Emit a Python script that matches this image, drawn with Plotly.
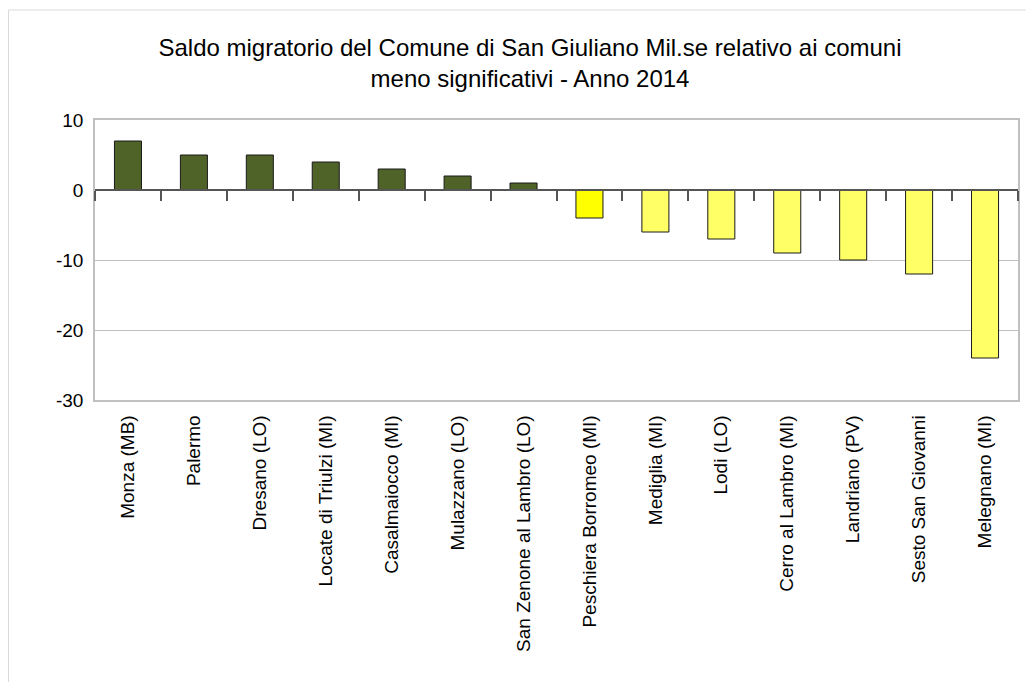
import plotly.graph_objects as go

categories = ["Monza (MB)", "Palermo", "Dresano (LO)", "Locate di Triulzi (MI)",
              "Casalmaiocco (MI)", "Mulazzano (LO)", "San Zenone al Lambro (LO)",
              "Peschiera Borromeo (MI)", "Mediglia (MI)", "Lodi (LO)",
              "Cerro al Lambro (MI)", "Landriano (PV)", "Sesto San Giovanni",
              "Melegnano (MI)"]
values = [7, 5, 5, 4, 3, 2, 1, -4, -6, -7, -9, -10, -12, -24]
bar_colors = ["#4F6228"] * 7 + ["#FFFF00"] + ["#FFFF66"] * 6
y_ticks = [10, 0, -10, -20, -30]
y_ticktext = ["10", "0", "-10", "-20", "-30"]

FONT = "Liberation Sans"

# page has an 8px body margin; figure sized/positioned to compensate
W, H = 1026, 680
L, R, T, B = 87, 16, 112, 288
pw, ph = W - L - R, H - T - B

fig = go.Figure()
fig.add_trace(go.Bar(
    x=list(range(len(categories))), y=values,
    marker=dict(color=bar_colors, line=dict(color="#1a1a1a", width=1)),
    width=0.41, showlegend=False, hoverinfo="x+y",
))
# transparent trace on overlay axis so the zero-line axis with category ticks is drawn
fig.add_trace(go.Scatter(x=[-0.5, len(categories) - 0.5], y=[0, 0], xaxis="x2",
                         mode="lines", line=dict(width=0), showlegend=False,
                         hoverinfo="skip"))

fig.update_layout(
    width=W, height=H,
    paper_bgcolor="white", plot_bgcolor="white",
    margin=dict(l=L, r=R, t=T, b=B, pad=0),
    title=dict(text="Saldo migratorio del Comune di San Giuliano Mil.se relativo ai comuni<br>meno significativi - Anno 2014",
               x=(530 - 8) / W, xanchor="center", y=1 - (56 - 8) / H, yanchor="middle",
               font=dict(family=FONT, size=24, color="#000000")),
    font=dict(family=FONT, color="#000000"),
    xaxis=dict(
        tickmode="array", tickvals=list(range(len(categories))), ticktext=categories,
        tickangle=-90, range=[-0.5, len(categories) - 0.5],
        showline=True, linecolor="#c0c0c0", linewidth=1.5, mirror=True,
        showgrid=False, ticks="", ticklabelstandoff=6,
        tickfont=dict(family=FONT, size=19, color="#000000"),
        zeroline=False,
    ),
    xaxis2=dict(
        overlaying="x", anchor="free", position=0.75, side="bottom",
        range=[-0.5, len(categories) - 0.5],
        tickmode="array", tickvals=[i - 0.5 for i in range(len(categories) + 1)],
        ticks="outside", ticklen=10, tickwidth=1.5, tickcolor="#555555",
        showticklabels=False, showline=True, linecolor="#555555", linewidth=1.5,
        showgrid=False, zeroline=False,
    ),
    yaxis=dict(
        range=[-30, 10], tickmode="array", tickvals=y_ticks, ticktext=y_ticktext,
        showgrid=True, gridcolor="#c0c0c0", gridwidth=1,
        showline=True, linecolor="#c0c0c0", linewidth=1.5, mirror=True,
        zeroline=False, ticks="", ticklabelstandoff=6,
        tickfont=dict(family=FONT, size=19, color="#000000"),
    ),
)

fig.add_shape(type="rect", xref="paper", yref="paper",
              x0=(0.5 - L) / pw, x1=(W + 20 - L) / pw,
              y0=(ph - (H + 20 - T)) / ph, y1=(ph - (2 - T)) / ph,
              line=dict(color="#d9d9d9", width=1), fillcolor="rgba(0,0,0,0)", layer="below")

fig.write_html("out.html")
